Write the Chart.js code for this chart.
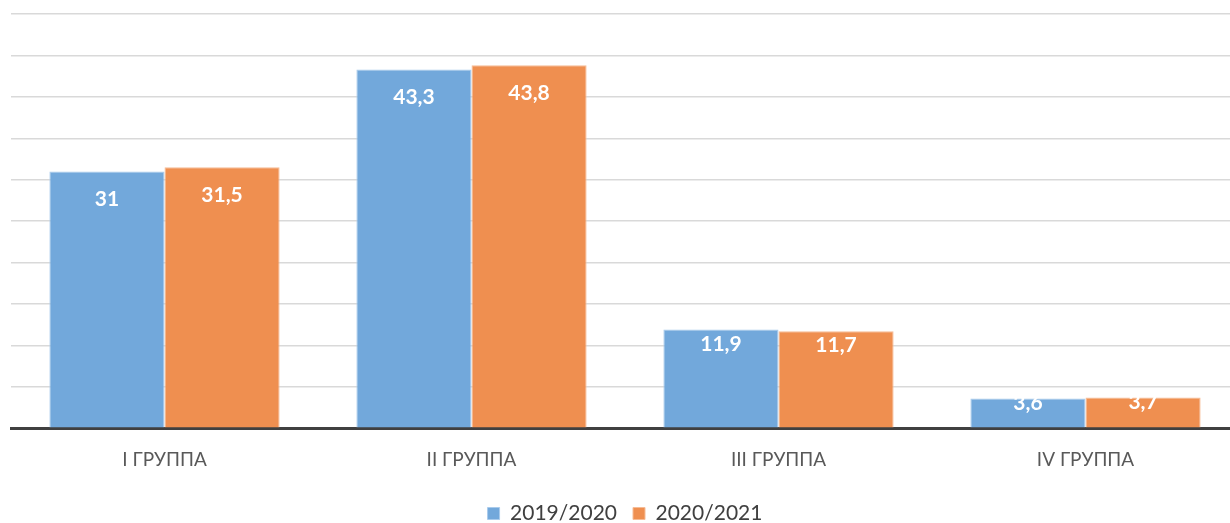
<!DOCTYPE html>
<html>
<head>
<meta charset="utf-8">
<script src="https://cdn.jsdelivr.net/npm/chart.js@4/dist/chart.umd.min.js"></script>
<style>
  html, body { margin: 0; padding: 0; background: #fff; overflow: hidden; }
  #wrap { width: 1239px; height: 534px; position: relative; }
</style>
</head>
<body>
<div id="wrap"><canvas id="chart"></canvas></div>
<script>
const categories = ['I ГРУППА', 'II ГРУППА', 'III ГРУППА', 'IV ГРУППА'];
const seriesNames = ['2019/2020', '2020/2021'];
const values2019 = [31, 43.3, 11.9, 3.6];
const values2020 = [31.5, 43.8, 11.7, 3.7];

// white value labels inside the top of each bar
const barLabels = {
  id: 'barLabels',
  afterDatasetsDraw(chart) {
    const { ctx } = chart;
    ctx.save();
    ctx.fillStyle = '#ffffff';
    ctx.font = "bold 21px Lato, sans-serif";
    ctx.textAlign = 'center';
    ctx.textBaseline = 'middle';
    chart.data.datasets.forEach((ds, i) => {
      chart.getDatasetMeta(i).data.forEach((bar, j) => {
        const h = bar.base - bar.y;
        const pad = Math.min(28, h * 0.15);
        ctx.fillText(String(ds.data[j]).replace('.', ','), bar.x, bar.y + pad);
      });
    });
    ctx.restore();
  }
};

const ctx = document.getElementById('chart').getContext('2d');
new Chart(ctx, {
  type: 'bar',
  data: {
    labels: categories,
    datasets: [
      {
        label: seriesNames[0],
        data: values2019,
        backgroundColor: '#72a8db',
        borderColor: '#a9cbec',
        borderWidth: 1,
      },
      {
        label: seriesNames[1],
        data: values2020,
        backgroundColor: '#ef8f50',
        borderColor: '#f6bc96',
        borderWidth: 1,
      },
    ],
  },
  options: {
    responsive: true,
    maintainAspectRatio: false,
    animation: false,
    layout: { padding: { left: 11, right: 0, top: 14, bottom: 0 } },
    datasets: {
      bar: { categoryPercentage: 0.75, barPercentage: 1 },
    },
    plugins: {
      legend: {
        position: 'bottom',
        labels: {
          color: '#404040',
          font: { family: 'Lato, sans-serif', size: 21 },
          boxWidth: 12,
          boxHeight: 12,
          padding: 16,
        },
      },
      tooltip: { enabled: false },
    },
    scales: {
      x: {
        grid: { display: false },
        border: { color: '#404040', width: 3 },
        ticks: {
          color: '#595959',
          font: { family: 'Lato, sans-serif', size: 19 },
          padding: 12,
        },
        afterFit: scale => { scale.height += 4; },
      },
      y: {
        min: 0,
        max: 50,
        ticks: { display: false, stepSize: 5 },
        grid: { color: '#d9d9d9', lineWidth: 1.5, drawTicks: false },
        border: { display: false },
      },
    },
  },
  plugins: [barLabels],
});
</script>
</body>
</html>
